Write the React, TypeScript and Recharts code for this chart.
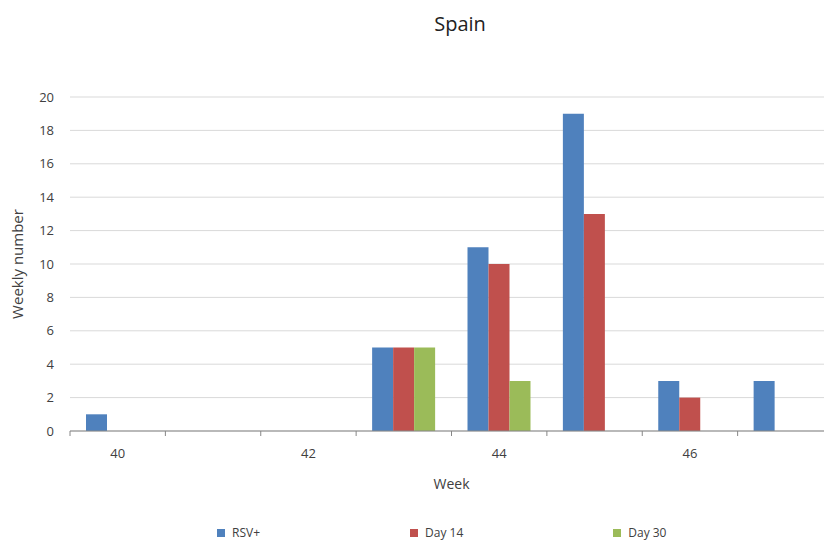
import { Bar, BarChart, CartesianGrid, Legend, XAxis, YAxis } from 'recharts';

const weeks = ['40', '41', '42', '43', '44', '45', '46', '47'];
const rsvPositive = [1, 0, 0, 5, 11, 19, 3, 3];
const day14 = [0, 0, 0, 5, 10, 13, 2, 0];
const day30 = [0, 0, 0, 5, 3, 0, 0, 0];
const yTicks = [0, 2, 4, 6, 8, 10, 12, 14, 16, 18, 20];
const seriesOrder = ['RSV+', 'Day 14', 'Day 30'];

const data = weeks.map((week, i) => ({
  week,
  rsv: rsvPositive[i],
  d14: day14[i],
  d30: day30[i],
}));

const FONT = '"Open Sans", "Liberation Sans", sans-serif';
const TEXT = '#404040';
const CHART_W = 840;
const CHART_H = 542;
const Y_AXIS_W = 70;
const MARGIN = { top: 97, right: 7, left: 0, bottom: 53 };
const BAND = (CHART_W - Y_AXIS_W - MARGIN.right) / weeks.length;

// Excel-style: tick marks sit between categories, labels only every other week
function WeekTick(props: any) {
  const { x, y, payload, index } = props;
  const bx = x - BAND / 2;
  return (
    <g>
      <line x1={bx} x2={bx} y1={y} y2={y + 5} stroke="#868686" />
      {index % 2 === 0 && (
        <text x={x} y={y + 27} textAnchor="middle" fontSize={13} fill={TEXT} fontFamily={FONT}>
          {payload.value}
        </text>
      )}
    </g>
  );
}

function LegendRow(props: any) {
  const items = [...(props.payload ?? [])].sort(
    (a: any, b: any) => seriesOrder.indexOf(a.value) - seriesOrder.indexOf(b.value),
  );
  return (
    <div
      style={{
        display: 'flex',
        gap: 150,
        paddingLeft: 217,
        fontSize: 12,
        lineHeight: '15px',
        color: TEXT,
        fontFamily: FONT,
      }}
    >
      {items.map((it: any) => (
        <div key={it.value} style={{ display: 'flex', alignItems: 'center' }}>
          <span style={{ width: 8, height: 8, background: it.color, marginRight: 7, display: 'inline-block' }} />
          {it.value}
        </div>
      ))}
    </div>
  );
}

export default function App() {
  return (
    <div
      style={{
        position: 'absolute',
        left: 0,
        top: 0,
        width: 824,
        height: 542,
        overflow: 'hidden',
        background: '#fff',
        fontFamily: FONT,
      }}
    >
      <div
        style={{
          position: 'absolute',
          left: 360,
          top: 12,
          width: 200,
          textAlign: 'center',
          fontSize: 20,
          lineHeight: '24px',
          color: '#222',
        }}
      >
        Spain
      </div>
      <BarChart
        width={CHART_W}
        height={CHART_H}
        data={data}
        margin={MARGIN}
        barCategoryGap={16}
        barGap={0}
      >
        <CartesianGrid vertical={false} stroke="#d9d9d9" />
        <XAxis
          dataKey="week"
          interval={0}
          height={58}
          tickSize={0}
          tickMargin={0}
          tickLine={false}
          axisLine={{ stroke: '#868686' }}
          tick={<WeekTick />}
          label={{ value: 'Week', position: 'insideBottom', offset: 0, fill: TEXT, fontSize: 14, fontFamily: FONT }}
        />
        <YAxis
          domain={[0, 20]}
          ticks={yTicks}
          width={Y_AXIS_W}
          tickSize={0}
          tickMargin={16}
          tickLine={false}
          axisLine={false}
          tick={{ fontSize: 13, fill: TEXT, fontFamily: FONT }}
          label={{
            value: 'Weekly number',
            angle: -90,
            position: 'center',
            dx: -17,
            fill: TEXT,
            fontSize: 15,
            fontFamily: FONT,
          }}
        />
        <Legend
          verticalAlign="middle"
          layout="horizontal"
          wrapperStyle={{ top: 525, left: 0, width: 824 }}
          content={<LegendRow />}
        />
        <Bar dataKey="rsv" name="RSV+" fill="#4f81bd" isAnimationActive={false} />
        <Bar dataKey="d14" name="Day 14" fill="#c0504d" isAnimationActive={false} />
        <Bar dataKey="d30" name="Day 30" fill="#9bbb59" isAnimationActive={false} />
      </BarChart>
    </div>
  );
}
